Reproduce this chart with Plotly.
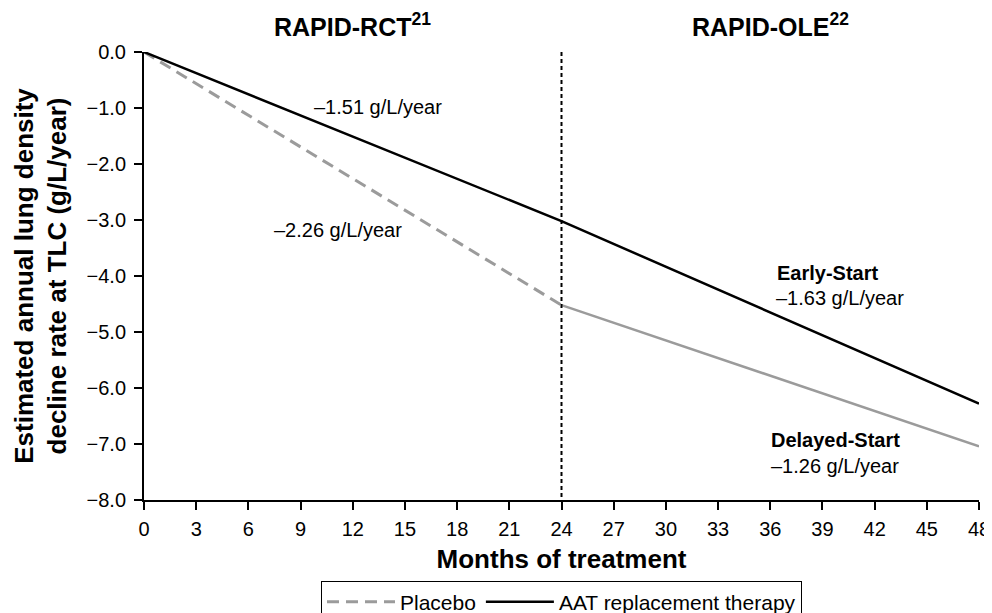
import plotly.graph_objects as go

# Data
months_rct = [0, 24]
months_ole = [24, 48]
months_all = [0, 24, 48]
aat_values = [0.0, -3.02, -6.28]
placebo_values = [0.0, -4.52]
delayed_values = [-4.52, -7.04]

x_ticks = list(range(0, 49, 3))
y_ticks = [0, -1, -2, -3, -4, -5, -6, -7, -8]

FONT = "Liberation Sans, Arial, sans-serif"
GREY = "#9b9b9b"
BLACK = "#000000"

fig = go.Figure()

fig.add_trace(go.Scatter(
    x=months_rct, y=placebo_values, mode="lines", name="Placebo",
    line=dict(color=GREY, width=3, dash="12px,7px"),
))
fig.add_trace(go.Scatter(
    x=months_all, y=aat_values, mode="lines", name="AAT replacement therapy",
    line=dict(color=BLACK, width=2.5),
))
fig.add_trace(go.Scatter(
    x=months_ole, y=delayed_values, mode="lines", showlegend=False,
    line=dict(color=GREY, width=2.5),
))

# vertical divider at 24 months
fig.add_shape(
    type="line", x0=24, x1=24, y0=0, y1=-8, xref="x", yref="y",
    line=dict(color=BLACK, width=2, dash="4px,3px"),
)

# study headers above the plot
for x, text in [(12, "<b>RAPID-RCT<sup>21</sup></b>"), (36, "<b>RAPID-OLE<sup>22</sup></b>")]:
    fig.add_annotation(
        x=x, y=1.06, xref="x", yref="paper", text=text, showarrow=False,
        xanchor="center", yanchor="middle",
        font=dict(family=FONT, size=25, color=BLACK),
    )

annotations = [
    (9.65, -0.98, "–1.51 g/L/year"),
    (7.35, -3.18, "–2.26 g/L/year"),
    (36.3, -3.95, "<b>Early-Start</b>"),
    (36.2, -4.39, "–1.63 g/L/year"),
    (35.9, -6.93, "<b>Delayed-Start</b>"),
    (35.9, -7.39, "–1.26 g/L/year"),
]
for x, y, text in annotations:
    fig.add_annotation(
        x=x, y=y, text=text, showarrow=False, xanchor="left", yanchor="middle",
        font=dict(family=FONT, size=20, color=BLACK),
    )

axis_common = dict(
    showline=True, linecolor=BLACK, linewidth=2, showgrid=False, zeroline=False,
    ticks="outside", ticklen=8, tickwidth=2, tickcolor=BLACK,
    tickfont=dict(family=FONT, size=20, color=BLACK), automargin=False,
)

fig.update_xaxes(
    range=[0, 48], tickvals=x_ticks, ticklabelstandoff=2,
    title=dict(text="<b>Months of treatment</b>", font=dict(family=FONT, size=26, color=BLACK), standoff=11),
    **axis_common,
)
fig.update_yaxes(
    range=[-8, 0], tickvals=y_ticks, tickformat=".1f", ticklabelstandoff=4,
    title=dict(text="<b>Estimated annual lung density<br>decline rate at TLC (g/L/year)</b>",
               font=dict(family=FONT, size=26, color=BLACK), standoff=12),
    **axis_common,
)

# page body adds an 8px offset, so the figure is sized/margined to compensate
fig.update_layout(
    width=984, height=605,
    margin=dict(l=136, r=13, t=44, b=113, autoexpand=False),
    plot_bgcolor="white", paper_bgcolor="white",
    font=dict(family=FONT, color=BLACK),
    legend=dict(
        orientation="h", x=0.5, xanchor="center", y=-0.18, yanchor="top",
        bordercolor=BLACK, borderwidth=1, itemwidth=68,
        font=dict(family=FONT, size=21, color=BLACK),
    ),
)

fig.write_html("out.html")
